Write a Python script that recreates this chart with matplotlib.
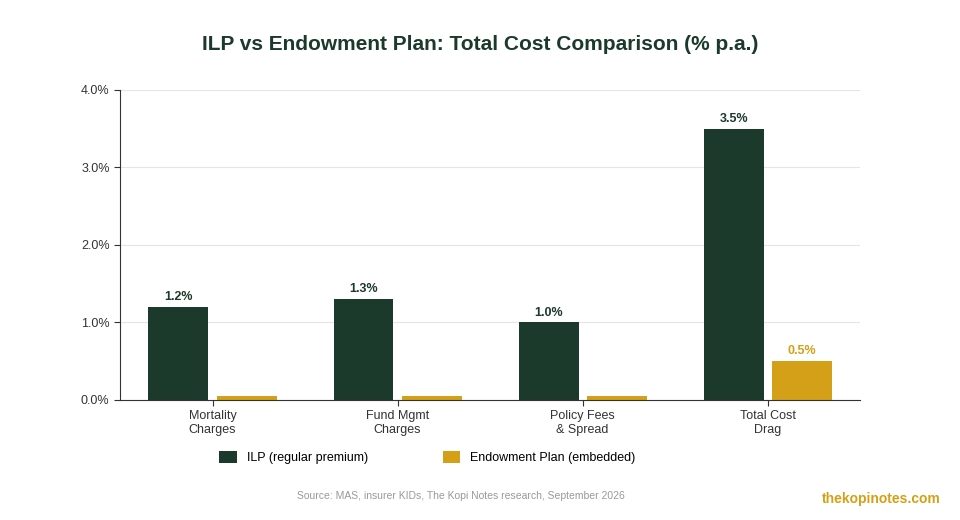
import matplotlib
matplotlib.use("Agg")
import matplotlib.pyplot as plt
import numpy as np

plt.rcParams['font.family'] = ['Liberation Sans', 'DejaVu Sans']

categories = ["Mortality\nCharges", "Fund Mgmt\nCharges", "Policy Fees\n& Spread", "Total Cost\nDrag"]
ilp = [1.2, 1.3, 1.0, 3.5]
endow = [0.05, 0.05, 0.05, 0.5]
ilp_labels = ["1.2%", "1.3%", "1.0%", "3.5%"]
endow_labels = ["", "", "", "0.5%"]
yticks = [0, 1, 2, 3, 4]

green = "#1b3a2b"
gold = "#d4a017"

fig = plt.figure(figsize=(9.6, 5.2), dpi=100)
ax = fig.add_axes([0.125, 0.231, 0.771, 0.596])
x = np.arange(len(categories))
w = 0.324
off = 0.184
ax.bar(x - off, ilp, w, color=green, label="ILP (regular premium)")
ax.bar(x + off, endow, w, color=gold, label="Endowment Plan (embedded)")
for xi, v, t in zip(x, ilp, ilp_labels):
    ax.text(xi - off, v + 0.05, t, ha="center", va="bottom", fontsize=9, fontweight="bold", color=green)
for xi, v, t in zip(x, endow, endow_labels):
    if t:
        ax.text(xi + off, v + 0.05, t, ha="center", va="bottom", fontsize=9, fontweight="bold", color=gold)
ax.set_xlim(-0.5, 3.5)
ax.set_ylim(0, 4)
ax.set_yticks(yticks)
ax.set_yticklabels([f"{t:.1f}%" for t in yticks], fontsize=9, color="#333333")
ax.set_xticks(x)
ax.set_xticklabels(categories, fontsize=9, color="#333333")
ax.grid(axis="y", color="#e5e5e5", linewidth=0.8)
ax.set_axisbelow(True)
for s in ["top", "right"]:
    ax.spines[s].set_visible(False)
ax.spines["left"].set_color("#333333")
ax.spines["bottom"].set_color("#333333")
ax.tick_params(axis="both", length=4, color="#333333")

fig.text(0.5, 0.915, "ILP vs Endowment Plan: Total Cost Comparison (% p.a.)", ha="center",
         va="center", fontsize=15, fontweight="bold", color=green)
fig.legend(loc="center", bbox_to_anchor=(0.445, 0.12), ncol=2, frameon=False, fontsize=9,
           handlelength=1.4, handleheight=1.1, columnspacing=6)
fig.text(0.48, 0.047, "Source: MAS, insurer KIDs, The Kopi Notes research, September 2026",
         ha="center", va="center", fontsize=7.5, color="#999999")
fig.text(0.98, 0.04, "thekopinotes.com", ha="right", va="center", fontsize=10,
         fontweight="bold", color=gold)
fig.savefig("out.png", dpi=100)
